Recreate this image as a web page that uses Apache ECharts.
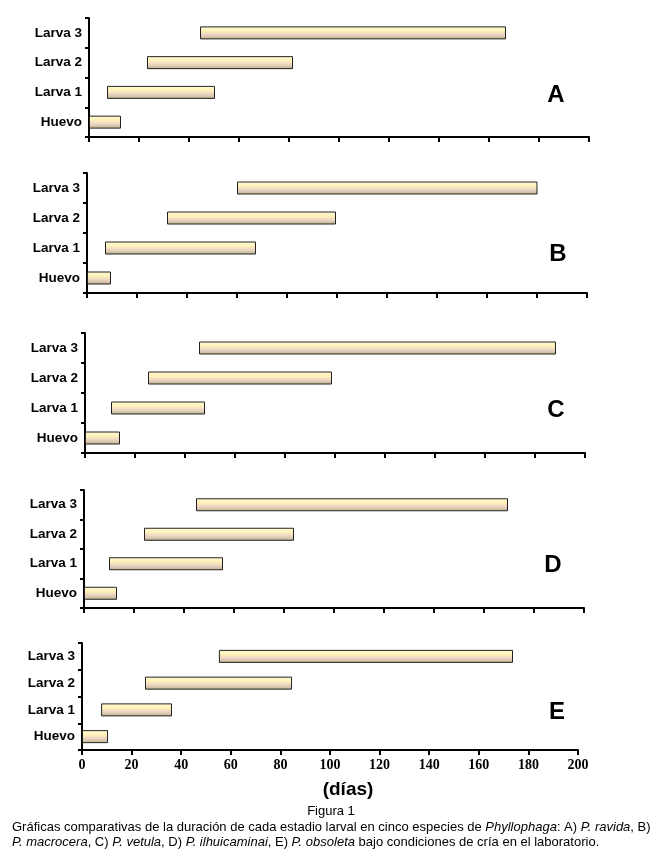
<!DOCTYPE html>
<html><head><meta charset="utf-8">
<script src="https://cdn.jsdelivr.net/npm/echarts@6/dist/echarts.min.js"></script>
<style>html,body{margin:0;padding:0;background:#fff}#c{width:661px;height:864px}</style>
</head><body><div id="c"></div>
<script>
const categories = ['Huevo', 'Larva 1', 'Larva 2', 'Larva 3'];
const panelLetters = ['A', 'B', 'C', 'D', 'E'];
// start and end day of each stage (Huevo, Larva 1, Larva 2, Larva 3)
const startA = [0, 7.2, 23.2, 44.4];   const endA = [12.8, 50.4, 81.6, 166.8];
const startB = [0, 7.2, 32, 60];       const endB = [9.6, 67.6, 99.6, 180.2];
const startC = [0, 10.4, 25.2, 45.6];  const endC = [14, 48, 98.8, 188.4];
const startD = [0, 10, 24, 44.8];      const endD = [13.2, 55.6, 84, 169.6];
const startE = [0, 7.7, 25.4, 55.2];   const endE = [10.5, 36.3, 84.7, 173.8];
const xTicks = [0, 20, 40, 60, 80, 100, 120, 140, 160, 180, 200];

const starts = [startA, startB, startC, startD, startE];
const ends = [endA, endB, endC, endD, endE];
const grids = [
  {left: 89, top: 18, width: 500, height: 119},
  {left: 87, top: 173, width: 500, height: 120},
  {left: 85, top: 333, width: 500, height: 120},
  {left: 84, top: 490, width: 500, height: 118},
  {left: 82, top: 643, width: 496, height: 107}
];
const letterPos = [[556, 95], [558, 254], [556, 410], [553, 565], [557, 712]];

const barFill = {type: 'linear', x: 0, y: 0, x2: 0, y2: 1, colorStops: [
  {offset: 0, color: '#fffbd6'}, {offset: 0.35, color: '#fff2b8'},
  {offset: 0.62, color: '#eed6c6'}, {offset: 1, color: '#bab28a'}]};

const xAxes = [], yAxes = [], series = [], graphics = [];
grids.forEach((g, i) => {
  const last = i === grids.length - 1;
  xAxes.push({
    gridIndex: i, type: 'value', min: 0, max: 200, interval: 20,
    axisLine: {show: true, lineStyle: {color: '#000', width: 2}},
    axisTick: {show: true, length: 5, lineStyle: {color: '#000', width: 2}},
    splitLine: {show: false},
    axisLabel: {show: last, color: '#000', fontFamily: 'Liberation Serif', fontWeight: 'bold', fontSize: 14, margin: 8,
      formatter: v => xTicks.includes(v) ? String(v) : ''}
  });
  yAxes.push({
    gridIndex: i, type: 'category', data: categories, boundaryGap: true,
    axisLine: {show: true, lineStyle: {color: '#000', width: 2}},
    axisTick: {show: true, length: 4, lineStyle: {color: '#000', width: 2}},
    axisLabel: {color: '#000', fontFamily: 'Liberation Sans', fontWeight: 'bold', fontSize: 13.5, margin: 7}
  });
  series.push({
    type: 'bar', xAxisIndex: i, yAxisIndex: i, stack: 's' + i, barWidth: 13,
    itemStyle: {color: 'transparent'}, silent: true,
    data: starts[i]
  });
  series.push({
    type: 'bar', xAxisIndex: i, yAxisIndex: i, stack: 's' + i, barWidth: 13,
    itemStyle: {color: barFill, borderColor: '#222', borderWidth: 1},
    data: ends[i].map((e, k) => +(e - starts[i][k]).toFixed(2))
  });
  graphics.push({type: 'text', x: letterPos[i][0], y: letterPos[i][1],
    style: {text: panelLetters[i], font: 'bold 24px "Liberation Sans"', fill: '#000', align: 'center', verticalAlign: 'middle'}});
});

graphics.push({type: 'text', x: 348, y: 790,
  style: {text: '(días)', font: 'bold 19px "Liberation Sans"', fill: '#000', align: 'center', verticalAlign: 'middle'}});
graphics.push({type: 'text', x: 331, y: 811,
  style: {text: 'Figura 1', font: '13px "Liberation Sans"', fill: '#000', align: 'center', verticalAlign: 'middle'}});
const rich = {i: {fontStyle: 'italic', fontSize: 13, fontFamily: 'Liberation Sans'}, n: {fontSize: 13, fontFamily: 'Liberation Sans'}};
graphics.push({type: 'text', x: 12, y: 827,
  style: {text: '{n|Gráficas comparativas de la duración de cada estadio larval en cinco especies de }{i|Phyllophaga}{n|: A) }{i|P. ravida}{n|, B)}',
    rich: rich, fill: '#000', verticalAlign: 'middle'}});
graphics.push({type: 'text', x: 12, y: 842,
  style: {text: '{i|P. macrocera}{n|, C) }{i|P. vetula}{n|, D) }{i|P. ilhuicaminai}{n|, E) }{i|P. obsoleta}{n| bajo condiciones de cría en el laboratorio.}',
    rich: rich, fill: '#000', verticalAlign: 'middle'}});

const chart = echarts.init(document.getElementById('c'));
chart.setOption({
  backgroundColor: '#fff', animation: false,
  grid: grids, xAxis: xAxes, yAxis: yAxes, series: series, graphic: graphics
});
</script></body></html>
